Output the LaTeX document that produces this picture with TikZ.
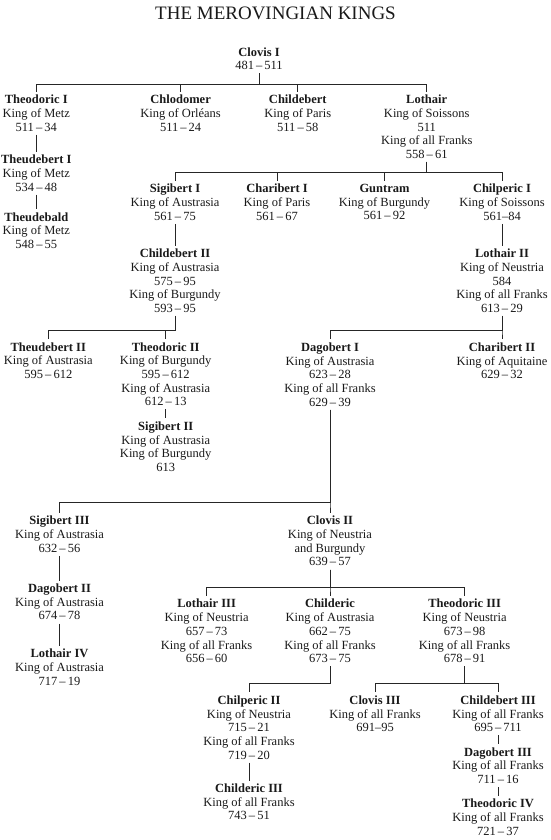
\documentclass[tikz,border=0pt]{standalone}
\usepackage{fontspec}
\setmainfont{Liberation Serif}
\begin{document}
\begin{tikzpicture}[x=1pt,y=-1pt,
  king/.style={anchor=north, align=center, inner sep=0pt, outer sep=3.4pt,
    font=\fontsize{12.5}{13.7}\selectfont, text=black!90},
  link/.style={line width=0.8pt, draw=black!85}]
\useasboundingbox (0,0) rectangle (551,840);
\node[anchor=base, inner sep=0pt, font=\fontsize{19}{22}\selectfont, text=black!90] (title) at (275.5,19.5) {THE MEROVINGIAN KINGS};

% generation nodes
\node[king] (clovis1) at (259,44) {\textbf{Clovis I}\\481\,–\,511};
\node[king] (theo1) at (36.3,91.6) {\textbf{Theodoric I}\\King of Metz\\511\,–\,34};
\node[king] (chlod) at (180.6,91.6) {\textbf{Chlodomer}\\King of Orléans\\511\,–\,24};
\node[king] (child1) at (297.8,91.6) {\textbf{Childebert}\\King of Paris\\511\,–\,58};
\node[king] (loth1) at (426.7,91.6) {\textbf{Lothair}\\King of Soissons\\511\\King of all Franks\\558\,–\,61};
\node[king] (theud1) at (36.3,151.6) {\textbf{Theudebert I}\\King of Metz\\534\,–\,48};
\node[king] (theudb) at (36.3,209) {\textbf{Theudebald}\\King of Metz\\548\,–\,55};
\node[king] (sig1) at (175,180.8) {\textbf{Sigibert I}\\King of Austrasia\\561\,–\,75};
\node[king] (char1) at (277,180.8) {\textbf{Charibert I}\\King of Paris\\561\,–\,67};
\node[king] (gunt) at (384.5,180.8) {\textbf{Guntram}\\King of Burgundy\\561\,–\,92};
\node[king] (chilp1) at (502,180.8) {\textbf{Chilperic I}\\King of Soissons\\561–84};
\node[king] (child2) at (175,245.6) {\textbf{Childebert II}\\King of Austrasia\\575\,–\,95\\King of Burgundy\\593\,–\,95};
\node[king] (loth2) at (502,245.6) {\textbf{Lothair II}\\King of Neustria\\584\\King of all Franks\\613\,–\,29};
\node[king] (theud2) at (48.3,339) {\textbf{Theudebert II}\\King of Austrasia\\595\,–\,612};
\node[king] (theo2) at (165.7,339) {\textbf{Theodoric II}\\King of Burgundy\\595\,–\,612\\King of Austrasia\\612\,–\,13};
\node[king] (sig2) at (165.7,418.3) {\textbf{Sigibert II}\\King of Austrasia\\King of Burgundy\\613};
\node[king] (dag1) at (330,339.3) {\textbf{Dagobert I}\\King of Austrasia\\623\,–\,28\\King of all Franks\\629\,–\,39};
\node[king] (char2) at (502,339.3) {\textbf{Charibert II}\\King of Aquitaine\\629\,–\,32};
\node[king] (sig3) at (59.5,512.8) {\textbf{Sigibert III}\\King of Austrasia\\632\,–\,56};
\node[king] (clov2) at (330,512.8) {\textbf{Clovis II}\\King of Neustria\\and Burgundy\\639\,–\,57};
\node[king] (dag2) at (59.5,580.5) {\textbf{Dagobert II}\\King of Austrasia\\674\,–\,78};
\node[king] (loth4) at (59.5,645.8) {\textbf{Lothair IV}\\King of Austrasia\\717\,–\,19};
\node[king] (loth3) at (206.6,595.9) {\textbf{Lothair III}\\King of Neustria\\657\,–\,73\\King of all Franks\\656\,–\,60};
\node[king] (childc) at (330,595.9) {\textbf{Childeric}\\King of Austrasia\\662\,–\,75\\King of all Franks\\673\,–\,75};
\node[king] (theo3) at (464.6,595.9) {\textbf{Theodoric III}\\King of Neustria\\673\,–\,98\\King of all Franks\\678\,–\,91};
\node[king] (chilp2) at (249,692.3) {\textbf{Chilperic II}\\King of Neustria\\715\,–\,21\\King of all Franks\\719\,–\,20};
\node[king] (clov3) at (375,692.3) {\textbf{Clovis III}\\King of all Franks\\691–95};
\node[king] (child3) at (498,692.3) {\textbf{Childebert III}\\King of all Franks\\695\,–\,711};
\node[king] (childc3) at (249,780.5) {\textbf{Childeric III}\\King of all Franks\\743\,–\,51};
\node[king] (dag3) at (498,744) {\textbf{Dagobert III}\\King of all Franks\\711\,–\,16};
\node[king] (theo4) at (498,795.6) {\textbf{Theodoric IV}\\King of all Franks\\721\,–\,37};

% family connectors
\foreach \c in {theo1,chlod,child1,loth1}
  \draw[link] (clovis1.south) -- ++(0,11) -| (\c.north);
\foreach \c in {sig1,char1,gunt,chilp1}
  \draw[link] (loth1.south) -- ++(0,10.3) -| (\c.north);
\foreach \c in {theud2,theo2}
  \draw[link] (child2.south) -- ++(0,14.4) -| (\c.north);
\foreach \c in {dag1,char2}
  \draw[link] (loth2.south) -- ++(0,14.6) -| (\c.north);
\foreach \c in {sig3,clov2}
  \draw[link] (dag1.south) -- ++(0,93) -| (\c.north);
\foreach \c in {loth3,childc,theo3}
  \draw[link] (clov2.south) -- ++(0,18.3) -| (\c.north);
\foreach \c in {chilp2}
  \draw[link] (childc.south) -- ++(0,17.3) -| (\c.north);
\foreach \c in {clov3,child3}
  \draw[link] (theo3.south) -- ++(0,16.6) -| (\c.north);

% single successions
\draw[link] (theo1.south) -- (theud1.north);
\draw[link] (theud1.south) -- (theudb.north);
\draw[link] (sig1.south) -- (child2.north);
\draw[link] (chilp1.south) -- (loth2.north);
\draw[link] (theo2.south) -- (sig2.north);
\draw[link] (sig3.south) -- (dag2.north);
\draw[link] (dag2.south) -- (loth4.north);
\draw[link] (chilp2.south) -- (childc3.north);
\draw[link] (child3.south) -- (dag3.north);
\draw[link] (dag3.south) -- (theo4.north);
\end{tikzpicture}
\end{document}
